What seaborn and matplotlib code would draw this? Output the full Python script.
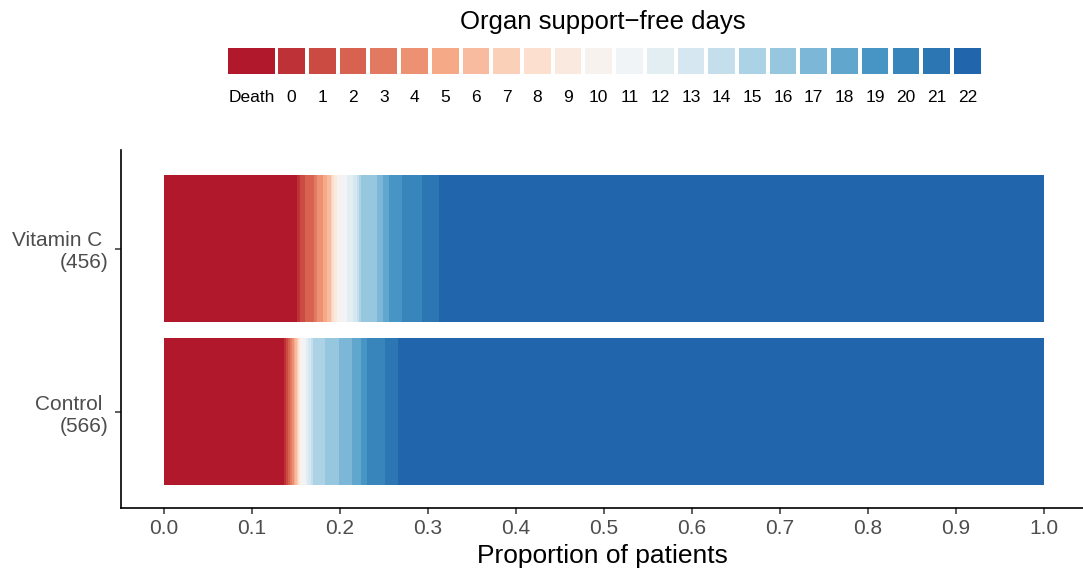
import numpy as np
import pandas as pd
import matplotlib
matplotlib.use("Agg")
import matplotlib.pyplot as plt
import seaborn as sns
from matplotlib.colors import LinearSegmentedColormap, to_hex
from matplotlib.patches import Rectangle

# ---------------- data ----------------
categories = ["Death"] + [str(i) for i in range(23)]
groups = ["Vitamin C", "Control"]
group_n = [456, 566]

# percentage of patients in each outcome category (Death, 0..22 days)
vitc_pct = [15.08, 0.375, 0.568, 1.023, 0.307, 0.682, 0.455, 0.432, 0.205, 0.193,
            0.375, 0.50, 0.568, 0.75, 0.42, 0.26, 0.19, 1.784, 0.682, 0.716,
            1.477, 2.307, 1.898, 68.75]
control_pct = [13.64, 0.227, 0.227, 0.227, 0.227, 0.227, 0.148, 0.159, 0.114, 0.114,
               0.148, 0.307, 0.318, 0.318, 0.307, 0.261, 1.33, 1.591, 1.443, 1.023,
               0.75, 2.011, 1.511, 73.38]

x_ticks = [0.0, 0.1, 0.2, 0.3, 0.4, 0.5, 0.6, 0.7, 0.8, 0.9, 1.0]
legend_title = "Organ support\u2212free days"
x_title = "Proportion of patients"

# ---------------- style ----------------
sns.set_theme(style="white")
plt.rcParams["font.family"] = ["Liberation Sans", "DejaVu Sans"]

anchors = ["#b2182b", "#d6604d", "#f4a582", "#fddbc7", "#f7f7f7",
           "#d1e5f0", "#92c5de", "#4393c3", "#2166ac"]
cmap = LinearSegmentedColormap.from_list("rdbu9", anchors)
colors = [to_hex(cmap(i / (len(categories) - 1))) for i in range(len(categories))]
palette = dict(zip(categories, colors))

rows = []
for g, vals in zip(groups, [vitc_pct, control_pct]):
    v = np.array(vals, dtype=float)
    v = v / v.sum()
    cum = np.cumsum(v)
    for c, cv in zip(categories, cum):
        rows.append(dict(group=g, category=c, cum=cv))
df = pd.DataFrame(rows)

W, H = 1083, 575
fig = plt.figure(figsize=(W / 100, H / 100), dpi=100)
ax = fig.add_axes([121 / W, 1 - 508 / H, 1 - 121 / W, (508 - 150) / H])

sns.barplot(data=df, x="cum", y="group", hue="category",
            hue_order=categories[::-1], order=groups, palette=palette,
            dodge=False, width=0.9, linewidth=0, orient="h",
            errorbar=None, legend=False, saturation=1, ax=ax)

ax.set_xlim((121 - 164) / 880, (1083 - 164) / 880)
ax.set_ylim(1 + 96.5 / 163, -98.5 / 163)
ax.set_xticks(x_ticks)
ax.set_xticklabels([f"{t:.1f}" for t in x_ticks])
ax.set_yticks(range(len(groups)))
ax.set_yticklabels([f"{g} \n({n})" for g, n in zip(groups, group_n)],
                   ha="right", linespacing=1.2)
ax.set_ylabel("")
ax.set_xlabel(x_title, fontsize=19, color="black", labelpad=4)

for s in ["top", "right"]:
    ax.spines[s].set_visible(False)
for s in ["left", "bottom"]:
    ax.spines[s].set_color("black")
    ax.spines[s].set_linewidth(1.2)
ax.tick_params(axis="both", bottom=True, left=True, direction="out",
               length=4, width=1.1, color="#333333",
               labelcolor="#4d4d4d", labelsize=15, pad=4)
ax.tick_params(axis="y", pad=5)
ax.grid(False)

# ---------------- legend ----------------
lax = fig.add_axes([0, 0, 1, 1], zorder=5)
lax.set_xlim(0, W)
lax.set_ylim(H, 0)
lax.axis("off")
lax.patch.set_alpha(0)

lax.text(603, 22, legend_title, ha="center", va="center", fontsize=18.5, color="black")
x0, x1 = 228.3, 275.0
for i, (c, col) in enumerate(zip(categories, colors)):
    if i == 0:
        left, width = x0, x1 - x0
    else:
        left, width = 278.3 + (i - 1) * 30.71, 26.7
    lax.add_patch(Rectangle((left, 48), width, 26, facecolor=col, edgecolor="none"))
    lax.text(left + width / 2, 97, c, ha="center", va="center", fontsize=12.5, color="black")

fig.savefig("out.png", dpi=100)
